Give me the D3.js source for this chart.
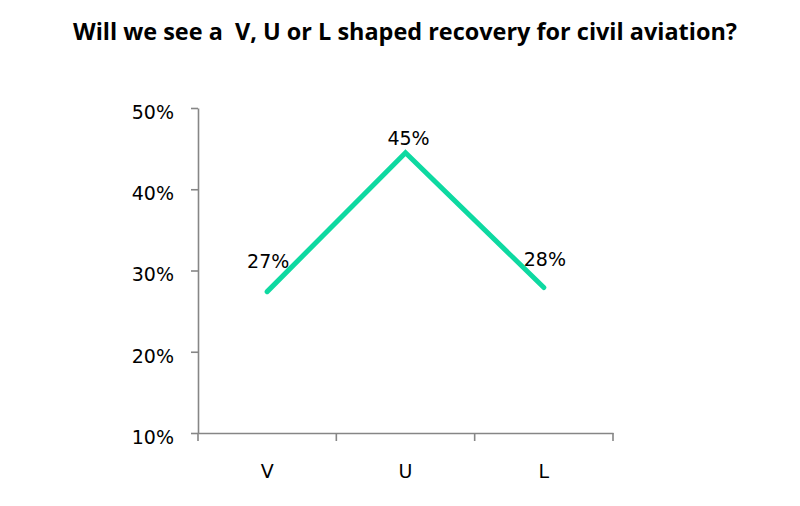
<!DOCTYPE html>
<meta charset="utf-8">
<head>
    <title>Recovery shape</title>
</head>
<style>
    body { margin: 0; background: #fff; }
</style>
<div id="chart"></div>
<script src="https://d3js.org/d3.v7.min.js"></script>
<script>
    // chart data
    var categories = ["V", "U", "L"];
    var shares = [0.274, 0.445, 0.279];
    var shareLabels = ["27%", "45%", "28%"];
    var yTicks = [0.1, 0.2, 0.3, 0.4, 0.5];

    var W = 800, H = 506;
    var margin = {top: 108, right: 187, bottom: 73, left: 198},
        width = W - margin.left - margin.right,
        height = H - margin.top - margin.bottom;

    var svg = d3.select("#chart")
      .append("svg")
        .attr("width", W)
        .attr("height", H);

    svg.append("text")
        .attr("x", 405)
        .attr("y", 40)
        .attr("text-anchor", "middle")
        .attr("font-family", "'Open Sans', sans-serif")
        .attr("font-weight", "bold")
        .attr("font-size", 24)
        .attr("textLength", 664)
        .attr("lengthAdjust", "spacingAndGlyphs")
        .style("white-space", "pre")
        .text("Will we see a  V, U or L shaped recovery for civil aviation?");

    var g = svg.append("g")
        .attr("transform", "translate(" + margin.left + "," + margin.top + ")");

    var x = d3.scaleBand()
      .domain(categories)
      .range([0, width]);

    var y = d3.scaleLinear()
      .domain([0.1, 0.5])
      .range([height, 0]);

    var axisColor = "#868686";

    var yAxis = g.append("g")
        .call(d3.axisLeft(y).tickValues(yTicks).tickFormat(d3.format(".0%")).tickSizeInner(7).tickSizeOuter(0).tickPadding(17));
    var xAxis = g.append("g")
        .attr("transform", "translate(0," + height + ")")
        .call(d3.axisBottom(x).tickSize(0).tickPadding(32));

    // x axis ticks sit on band edges, not centers
    xAxis.selectAll(".edge")
      .data(d3.range(categories.length + 1))
      .enter().append("line")
        .attr("class", "edge")
        .attr("x1", function(i) { return i * x.step(); })
        .attr("x2", function(i) { return i * x.step(); })
        .attr("y1", 0)
        .attr("y2", 8)
        .attr("stroke", axisColor)
        .attr("stroke-width", 1.6);

    [yAxis, xAxis].forEach(function(a) {
        a.select(".domain").attr("stroke", axisColor).attr("stroke-width", 1.6);
        a.selectAll(".tick line").attr("stroke", axisColor).attr("stroke-width", 1.6);
        a.selectAll(".tick text")
            .attr("fill", "#000")
            .attr("font-family", "'DejaVu Sans', sans-serif")
            .attr("font-size", 19);
    });
    yAxis.selectAll(".tick text").attr("dy", "0.55em");

    var cx = function(i) { return x(categories[i]) + x.bandwidth() / 2; };

    var line = d3.line()
        .x(function(d, i) { return cx(i); })
        .y(function(d) { return y(d); });

    g.append("path")
        .datum(shares)
        .attr("d", line)
        .attr("fill", "none")
        .attr("stroke", "#0ed9a1")
        .attr("stroke-width", 5)
        .attr("stroke-linecap", "round")
        .attr("stroke-linejoin", "miter");

    var labelLift = [24, 8, 22];
    g.selectAll(".val")
      .data(shares)
      .enter().append("text")
        .attr("class", "val")
        .attr("x", function(d, i) { return cx(i) + (i === 1 ? 3 : 1); })
        .attr("y", function(d, i) { return y(d) - labelLift[i]; })
        .attr("text-anchor", "middle")
        .attr("font-family", "'DejaVu Sans', sans-serif")
        .attr("font-size", 19)
        .text(function(d, i) { return shareLabels[i]; });
</script>
